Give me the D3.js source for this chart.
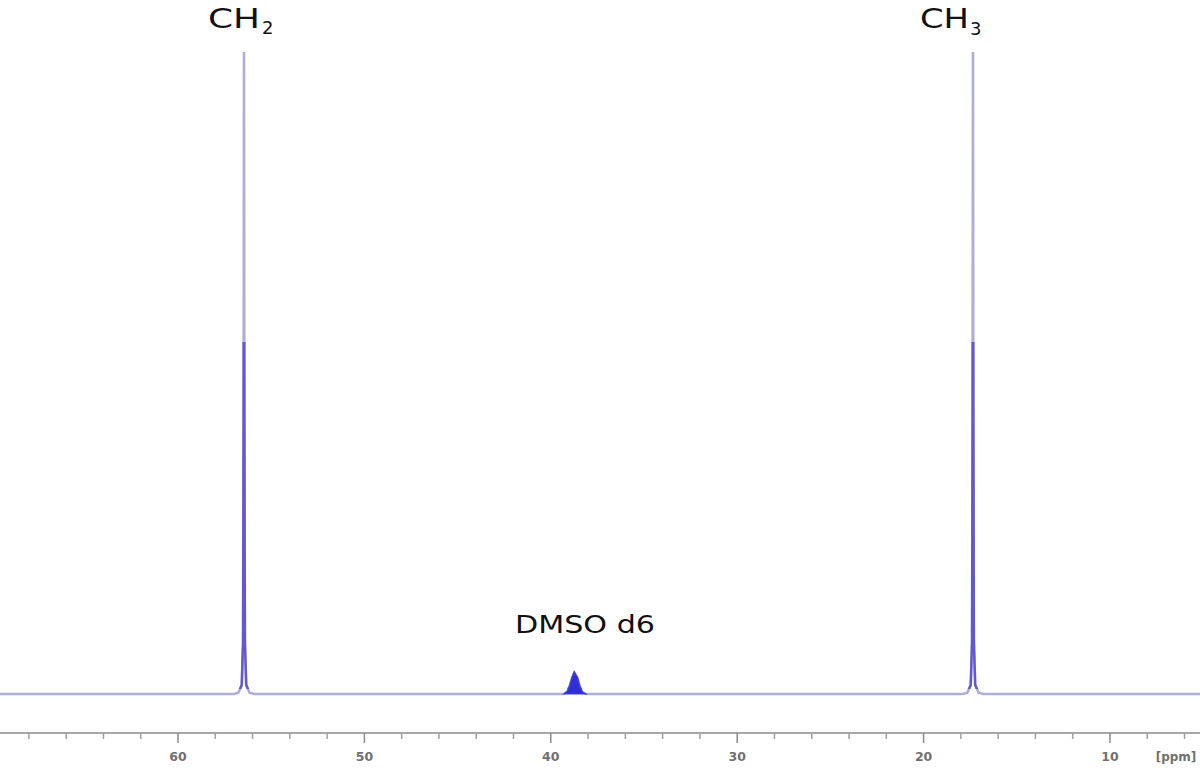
<!DOCTYPE html>
<html><head><meta charset="utf-8">
<script src="https://cdn.jsdelivr.net/npm/d3@7"></script>
<style>html,body{margin:0;padding:0;background:#fff;}svg{display:block;}</style>
</head><body>
<svg id="c" width="1200" height="768"></svg>
<script>
// Spectrum samples (ppm, relative intensity)
const spectrumPpm = [69.6, 57.0, 56.76, 56.58, 56.51, 56.48, 56.46, 56.44, 56.41, 56.34, 56.16, 55.9,
  39.3, 39.12, 38.97, 38.84, 38.74, 38.66, 38.58, 38.46, 38.3, 38.12,
  17.9, 17.65, 17.47, 17.40, 17.37, 17.35, 17.33, 17.30, 17.23, 17.05, 16.8, 5.1];
const spectrumInt = [0, 0, 0.2, 1.4, 8, 45, 100, 45, 8, 1.4, 0.2, 0,
  0, 0.4, 1.3, 2.6, 3.3, 2.9, 2.5, 1.2, 0.3, 0,
  0, 0.2, 1.4, 8, 45, 100, 45, 8, 1.4, 0.2, 0, 0];
const majorTicks = [60, 50, 40, 30, 20, 10];
const minorTicks = [68, 66, 64, 62, 58, 56, 54, 52, 48, 46, 44, 42, 38, 36, 34, 32, 28, 26, 24, 22, 18, 16, 14, 12, 8, 6];
const peakLabels = ["CH", "CH", "DMSO d6"];
const peakSubs = ["2", "3", ""];
const solventRange = [41, 36];
const unitLabel = "[ppm]";

const svg = d3.select("#c");
const x = d3.scaleLinear().domain([69.55, 5.17]).range([0, 1200]);
const y = d3.scaleLinear().domain([0, 100]).range([694, 52]);
const pts = spectrumPpm.map((p, i) => [p, spectrumInt[i]]);
const solventPts = pts.filter(d => d[0] <= solventRange[0] && d[0] >= solventRange[1]);

const defs = svg.append("defs");
defs.append("clipPath").attr("id", "lower").append("rect")
  .attr("x", 0).attr("y", 342).attr("width", 1200).attr("height", 347);

const line = d3.line().x(d => x(d[0])).y(d => y(d[1]));
const area = d3.area().x(d => x(d[0])).y0(y(0)).y1(d => y(d[1]));

// whole trace, lavender
svg.append("path").datum(pts).attr("d", line).attr("fill", "none")
  .attr("stroke", "#aeaed6").attr("stroke-width", 2.6);
// lower part of tall peaks, blue
svg.append("path").datum(pts).attr("d", line).attr("fill", "none")
  .attr("stroke", "#6458d2").attr("stroke-width", 2.4).attr("clip-path", "url(#lower)");
// filled solvent peak
svg.append("path").datum(solventPts).attr("d", area).attr("fill", "#2f2fd8")
  .attr("stroke", "#3a3ad6").attr("stroke-width", 1.2);

// axis
const axisY = 733;
svg.append("line").attr("x1", 0).attr("x2", 1200).attr("y1", axisY).attr("y2", axisY)
  .attr("stroke", "#a8a8a8").attr("stroke-width", 2);
svg.selectAll("line.minor").data(minorTicks).join("line").attr("class", "minor")
  .attr("x1", d => x(d)).attr("x2", d => x(d)).attr("y1", axisY).attr("y2", axisY + 6)
  .attr("stroke", "#a0a0a0").attr("stroke-width", 1.5);
svg.selectAll("line.major").data(majorTicks).join("line").attr("class", "major")
  .attr("x1", d => x(d)).attr("x2", d => x(d)).attr("y1", axisY).attr("y2", axisY + 10)
  .attr("stroke", "#8a8a8a").attr("stroke-width", 1.5);
svg.selectAll("text.tick").data(majorTicks).join("text").attr("class", "tick")
  .attr("x", d => x(d)).attr("y", 761).attr("text-anchor", "middle")
  .attr("font-family", "DejaVu Sans").attr("font-weight", "bold").attr("font-size", 12.5)
  .attr("fill", "#707070").text(d => d);
svg.append("text").attr("x", 1176).attr("y", 761).attr("text-anchor", "middle")
  .attr("font-family", "DejaVu Sans").attr("font-weight", "bold").attr("font-size", 12)
  .attr("fill", "#707070").text(unitLabel);

// peak labels
const font = "DejaVu Sans";
const lab = [
  {i: 0, x0: 208, w: 52, base: 28, size: 27, sx: 262, sbase: 34},
  {i: 1, x0: 920, w: 49, base: 28, size: 27, sx: 970, sbase: 35},
  {i: 2, x0: 515, w: 140, base: 633, size: 25}
];
lab.forEach(l => {
  svg.append("text").attr("x", l.x0).attr("y", l.base)
    .attr("font-family", font).attr("font-size", l.size).attr("fill", "#111")
    .attr("textLength", l.w).attr("lengthAdjust", "spacingAndGlyphs")
    .text(peakLabels[l.i]);
  if (peakSubs[l.i]) {
    svg.append("text").attr("x", l.sx).attr("y", l.sbase)
      .attr("font-family", font).attr("font-size", 18).attr("fill", "#111")
      .text(peakSubs[l.i]);
  }
});
</script>
</body></html>
